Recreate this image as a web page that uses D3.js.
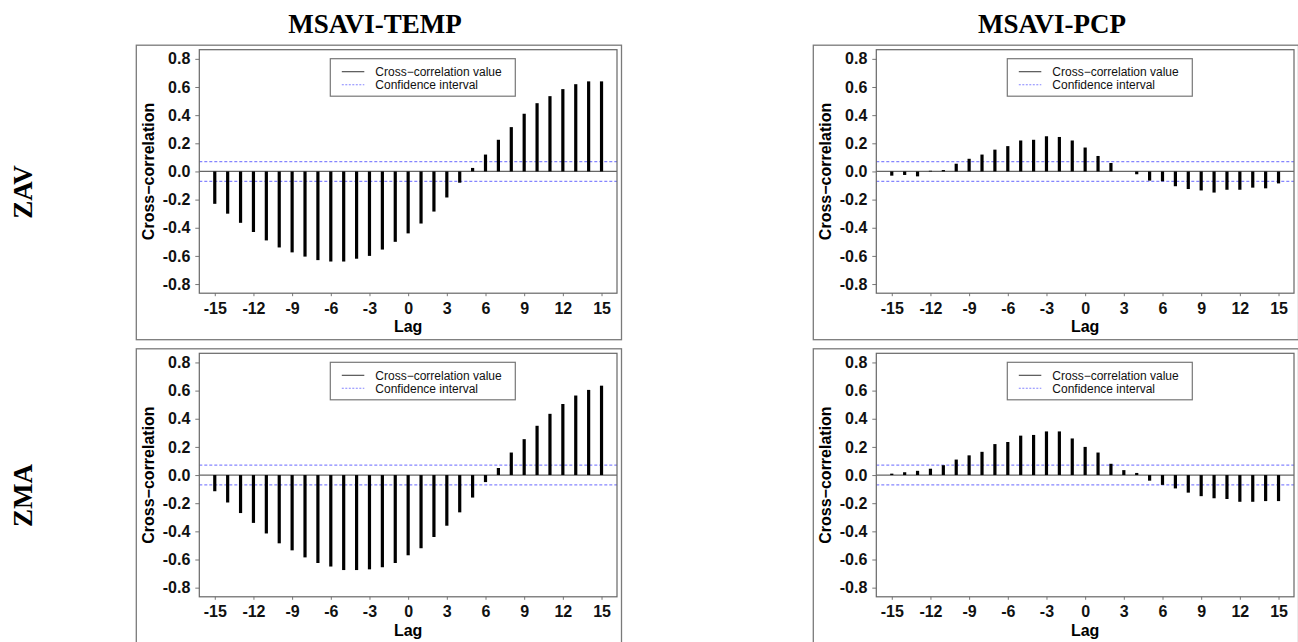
<!DOCTYPE html>
<html>
<head>
<meta charset="utf-8">
<script src="https://cdn.jsdelivr.net/npm/d3@7"></script>
<style>
	body { margin: 0; background: #fff; }
	svg { display: block; }
</style>
</head>
<body>
<div id="chart"></div>
<script>
//////////////////////////// data /////////////////////////////////////////

const lags = d3.range(-15, 16);

// MSAVI vs temperature / precipitation, one row per zone
const zavTemp = [-0.23, -0.30, -0.365, -0.43, -0.49, -0.54, -0.575, -0.605, -0.63, -0.64, -0.64, -0.62, -0.60, -0.555, -0.50, -0.44,
	-0.37, -0.285, -0.185, -0.08, 0.025, 0.12, 0.225, 0.315, 0.41, 0.485, 0.535, 0.585, 0.62, 0.64, 0.64];
const zavPcp = [-0.03, -0.025, -0.035, 0.005, 0.01, 0.055, 0.09, 0.12, 0.155, 0.18, 0.22, 0.225, 0.25, 0.245, 0.22, 0.17,
	0.11, 0.06, 0.0, -0.02, -0.065, -0.07, -0.105, -0.125, -0.135, -0.15, -0.13, -0.13, -0.115, -0.12, -0.085];
const zmaTemp = [-0.115, -0.195, -0.27, -0.34, -0.415, -0.485, -0.535, -0.585, -0.625, -0.65, -0.675, -0.675, -0.67, -0.655, -0.625, -0.57,
	-0.52, -0.44, -0.36, -0.265, -0.16, -0.05, 0.05, 0.16, 0.255, 0.35, 0.435, 0.505, 0.565, 0.605, 0.635];
const zmaPcp = [0.01, 0.02, 0.03, 0.045, 0.07, 0.11, 0.14, 0.165, 0.22, 0.235, 0.28, 0.285, 0.31, 0.31, 0.26, 0.2,
	0.16, 0.08, 0.035, 0.015, -0.04, -0.07, -0.095, -0.125, -0.15, -0.165, -0.17, -0.19, -0.19, -0.185, -0.185];

const confidence = 0.07;

const colTitles = ["MSAVI-TEMP", "MSAVI-PCP"];
const rowTitles = ["ZAV", "ZMA"];
const xTicks = [-15, -12, -9, -6, -3, 0, 3, 6, 9, 12, 15];
const yTicks = [-0.8, -0.6, -0.4, -0.2, 0.0, 0.2, 0.4, 0.6, 0.8];
const legendLabels = ["Cross\u2212correlation value", "Confidence interval"];

const series = [
	[zavTemp, zavPcp],
	[zmaTemp, zmaPcp]
];

//////////////////////////// drawing function /////////////////////////////

const createChart = () => {
	const width = 1298;
	const height = 642;

	const svg = d3.select("#chart").append("svg")
		.attr("width", width)
		.attr("height", height);

	// plot area of the top-left panel, others are shifted
	const plot = { left: 199.3, top: 49.7, width: 417.7, height: 243.5 };
	const colShift = 677;
	const rowShift = 303.6;

	const xScale = d3.scaleLinear().domain([-16.2, 16.2]).range([0, plot.width]);
	const yScale = d3.scaleLinear().domain([-0.865, 0.865]).range([plot.height, 0]);

	const sans = "'Liberation Sans', Arial, sans-serif";
	const serif = "'Liberation Serif', 'Times New Roman', serif";
	const ciColor = "#8585ff";

	// plain hyphen like R, not the unicode minus d3 uses
	const fmtY = (d) => d.toFixed(1);
	const fmtX = (d) => String(d);

	//////////////////////////// titles ///////////////////////////////////

	colTitles.forEach((t, c) => {
		svg.append("text")
			.attr("x", 375 + c * colShift)
			.attr("y", 33)
			.attr("text-anchor", "middle")
			.style("font-family", serif)
			.style("font-weight", "bold")
			.style("font-size", "27px")
			.text(t);
	});

	rowTitles.forEach((t, r) => {
		svg.append("text")
			.attr("transform", `translate(32,${192 + r * rowShift}) rotate(-90)`)
			.attr("text-anchor", "middle")
			.style("font-family", serif)
			.style("font-weight", "bold")
			.style("font-size", "27px")
			.text(t);
	});

	//////////////////////////// panels ///////////////////////////////////

	series.forEach((row, r) => {
		row.forEach((values, c) => {
			const ox = plot.left + c * colShift;
			const oy = plot.top + r * rowShift;

			// outer frame
			svg.append("rect")
				.attr("x", ox - 63)
				.attr("y", oy - 4.5)
				.attr("width", plot.width + 67.5)
				.attr("height", plot.height + 51)
				.attr("fill", "none")
				.attr("stroke", "#7a7a7a")
				.attr("stroke-width", 1.3);

			const g = svg.append("g").attr("transform", `translate(${ox},${oy})`);

			// y axis
			const yAxis = g.append("g")
				.call(d3.axisLeft(yScale).tickValues(yTicks).tickSize(4).tickPadding(5).tickFormat(fmtY));
			yAxis.select(".domain").remove();
			yAxis.selectAll("line").attr("stroke", "#777");
			yAxis.selectAll("text")
				.style("font-family", sans)
				.style("font-weight", "bold")
				.style("font-size", "16px")
				.attr("fill", "#111");

			// x axis
			const xAxis = g.append("g")
				.attr("transform", `translate(0,${plot.height})`)
				.call(d3.axisBottom(xScale).tickValues(xTicks).tickSize(3).tickPadding(6).tickFormat(fmtX));
			xAxis.select(".domain").remove();
			xAxis.selectAll("line").attr("stroke", "#777");
			xAxis.selectAll("text")
				.style("font-family", sans)
				.style("font-weight", "bold")
				.style("font-size", "16px")
				.attr("fill", "#111");

			// axis titles
			g.append("text")
				.attr("transform", `translate(-45,${yScale(0)}) rotate(-90)`)
				.attr("text-anchor", "middle")
				.style("font-family", sans)
				.style("font-weight", "bold")
				.style("font-size", "16px")
				.text("Cross\u2212correlation");

			g.append("text")
				.attr("x", xScale(0))
				.attr("y", plot.height + 39)
				.attr("text-anchor", "middle")
				.style("font-family", sans)
				.style("font-weight", "bold")
				.style("font-size", "16px")
				.text("Lag");

			// zero line
			g.append("line")
				.attr("x1", 0).attr("x2", plot.width)
				.attr("y1", yScale(0)).attr("y2", yScale(0))
				.attr("stroke", "#666")
				.attr("stroke-width", 1.2);

			// confidence interval
			g.selectAll(".ci")
				.data([confidence, -confidence])
				.join("line")
				.attr("class", "ci")
				.attr("x1", 0).attr("x2", plot.width)
				.attr("y1", d => yScale(d)).attr("y2", d => yScale(d))
				.attr("stroke", ciColor)
				.attr("stroke-width", 1.2)
				.attr("stroke-dasharray", "3,2");

			// bars
			g.selectAll(".bar")
				.data(values)
				.join("line")
				.attr("class", "bar")
				.attr("x1", (d, i) => xScale(lags[i]))
				.attr("x2", (d, i) => xScale(lags[i]))
				.attr("y1", yScale(0))
				.attr("y2", d => yScale(d))
				.attr("stroke", "#000")
				.attr("stroke-width", 3.2);

			// plot box
			g.append("rect")
				.attr("width", plot.width)
				.attr("height", plot.height)
				.attr("fill", "none")
				.attr("stroke", "#666")
				.attr("stroke-width", 1.2);

			// legend
			const leg = g.append("g").attr("transform", `translate(131,9)`);
			leg.append("rect")
				.attr("width", 185)
				.attr("height", 37.5)
				.attr("fill", "#fff")
				.attr("stroke", "#777")
				.attr("stroke-width", 1.2);
			legendLabels.forEach((lab, i) => {
				const ly = 13 + i * 13;
				leg.append("line")
					.attr("x1", 11.5).attr("x2", 34)
					.attr("y1", ly).attr("y2", ly)
					.attr("stroke", i === 0 ? "#444" : ciColor)
					.attr("stroke-width", 1.1)
					.attr("stroke-dasharray", i === 0 ? null : "2,1.5");
				leg.append("text")
					.attr("x", 45)
					.attr("y", ly + 4.3)
					.style("font-family", sans)
					.style("font-size", "12px")
					.attr("fill", "#111")
					.text(lab);
			});
		});
	});
};

createChart();
</script>
</body>
</html>
